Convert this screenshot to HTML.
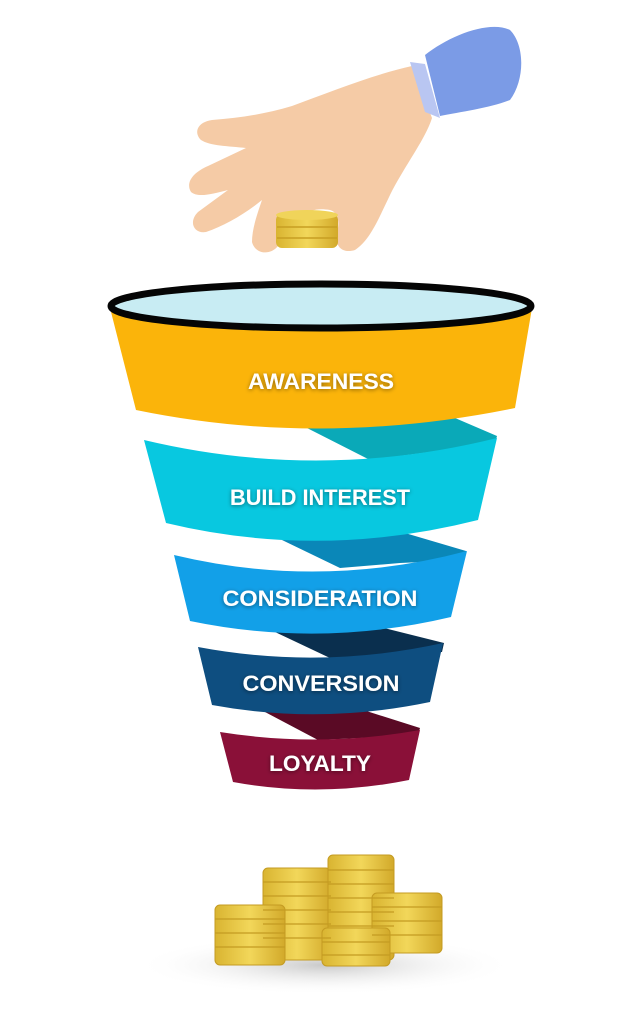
<!DOCTYPE html>
<html><head><meta charset="utf-8"><style>
html,body{margin:0;padding:0;background:#fff}
svg{display:block}
text{font-family:"Liberation Sans",sans-serif;font-weight:bold;fill:#fff;text-anchor:middle}
</style></head><body>
<svg width="640" height="1024" viewBox="0 0 640 1024" xmlns="http://www.w3.org/2000/svg">
<defs>
<filter id="sh" x="-20%" y="-50%" width="140%" height="200%"><feDropShadow dx="0" dy="1" stdDeviation="2" flood-color="#000" flood-opacity="0.45"/></filter>
<radialGradient id="gs" cx="50%" cy="50%" r="50%"><stop offset="0" stop-color="#bbb" stop-opacity="0.8"/><stop offset="1" stop-color="#fff" stop-opacity="0"/></radialGradient>
<linearGradient id="gold" x1="0" x2="1"><stop offset="0" stop-color="#d9b431"/><stop offset="0.5" stop-color="#f2d75a"/><stop offset="1" stop-color="#d2a92a"/></linearGradient>
</defs>

<!-- hand -->
<path d="M412,66 L432,118 C425,140 405,165 390,195 C378,220 370,240 355,250 C342,254 334,246 337,232 C340,222 338,212 330,210 C318,208 310,210 305,215 C296,230 288,238 278,246 C270,256 255,254 252,242 C252,228 258,212 262,200 C245,214 224,226 206,232 C194,234 188,222 198,212 L228,190 C212,194 198,198 191,192 C185,182 194,172 208,166 L246,148 C228,146 210,146 201,140 C193,132 198,122 212,120 C240,118 265,114 292,106 C330,92 375,74 412,66 Z" fill="#f5cba6"/>
<path d="M410,62 L425,112 L440,118 L425,64 Z" fill="#b9c6f2"/>
<path d="M425,55 C450,35 490,20 510,30 C525,45 525,80 510,100 C490,108 460,112 440,116 Z" fill="#7b9be6"/>
<!-- held coin -->
<rect x="276" y="214" width="62" height="34" rx="6" fill="url(#gold)"/>
<ellipse cx="307" cy="215" rx="31" ry="5" fill="#f0d45a"/>
<line x1="277" y1="227" x2="337" y2="227" stroke="#c79e22" stroke-width="1.5"/>
<line x1="277" y1="238" x2="337" y2="238" stroke="#c79e22" stroke-width="1.5"/>

<!-- connectors -->
<polygon points="307,428 455,418 497,436 494,447 430,452 370,460" fill="#0aa9b8"/>
<polygon points="282,540 405,533 466,551 464,560 400,563 340,568" fill="#0a87b8"/>
<polygon points="275,632 380,627 444,643 442,652 380,655 330,658" fill="#0a2f4e"/>
<polygon points="265,712 360,709 420,728 418,735 360,738 318,740" fill="#5a0a25"/>

<!-- bands -->
<path d="M110,308 Q320,350 532,308 L515,408 Q320,448 136,410 Z" fill="#fbb40a"/>
<path d="M144,440 Q320,482 497,438 L478,520 Q320,560 166,523 Z" fill="#08c8e0"/>
<path d="M174,555 Q320,590 467,551 L451,617 Q320,648 190,621 Z" fill="#12a0e8"/>
<path d="M198,647 Q320,670 443,643 L430,702 Q320,725 212,705 Z" fill="#0e4e80"/>
<path d="M220,732 Q320,748 420,730 L409,780 Q320,798 233,782 Z" fill="#8a1038"/>

<!-- rim -->
<ellipse cx="321" cy="306" rx="210" ry="22" fill="#c8ecf3" stroke="#050505" stroke-width="7"/>

<g filter="url(#sh)">
<text x="321" y="389" font-size="22" textLength="146" lengthAdjust="spacingAndGlyphs">AWARENESS</text>
<text x="320" y="505" font-size="22" textLength="180" lengthAdjust="spacingAndGlyphs">BUILD INTEREST</text>
<text x="320" y="606" font-size="22" textLength="195" lengthAdjust="spacingAndGlyphs">CONSIDERATION</text>
<text x="321" y="691" font-size="22" textLength="157" lengthAdjust="spacingAndGlyphs">CONVERSION</text>
<text x="320" y="771" font-size="22" textLength="102" lengthAdjust="spacingAndGlyphs">LOYALTY</text>
</g>

<!-- coins shadow -->
<ellipse cx="325" cy="965" rx="190" ry="30" fill="url(#gs)"/>
<g fill="url(#gold)" stroke="#c49b22" stroke-width="1">
<rect x="263" y="868" width="68" height="92" rx="5"/>
<rect x="328" y="855" width="66" height="105" rx="5"/>
<rect x="372" y="893" width="70" height="60" rx="5"/>
<rect x="215" y="905" width="70" height="60" rx="5"/>
<rect x="322" y="928" width="68" height="38" rx="5"/>
</g>
<g stroke="#c49b22" stroke-width="1.2">
<line x1="263" y1="882" x2="331" y2="882"/><line x1="263" y1="896" x2="331" y2="896"/><line x1="263" y1="910" x2="331" y2="910"/><line x1="263" y1="924" x2="331" y2="924"/><line x1="263" y1="938" x2="331" y2="938"/>
<line x1="328" y1="870" x2="394" y2="870"/><line x1="328" y1="884" x2="394" y2="884"/><line x1="328" y1="898" x2="394" y2="898"/><line x1="328" y1="912" x2="394" y2="912"/><line x1="328" y1="926" x2="394" y2="926"/>
<line x1="372" y1="907" x2="442" y2="907"/><line x1="372" y1="921" x2="442" y2="921"/><line x1="372" y1="935" x2="442" y2="935"/>
<line x1="215" y1="919" x2="285" y2="919"/><line x1="215" y1="933" x2="285" y2="933"/><line x1="215" y1="947" x2="285" y2="947"/>
<line x1="322" y1="942" x2="390" y2="942"/><line x1="322" y1="955" x2="390" y2="955"/>
</g>
</svg>
</body></html>
